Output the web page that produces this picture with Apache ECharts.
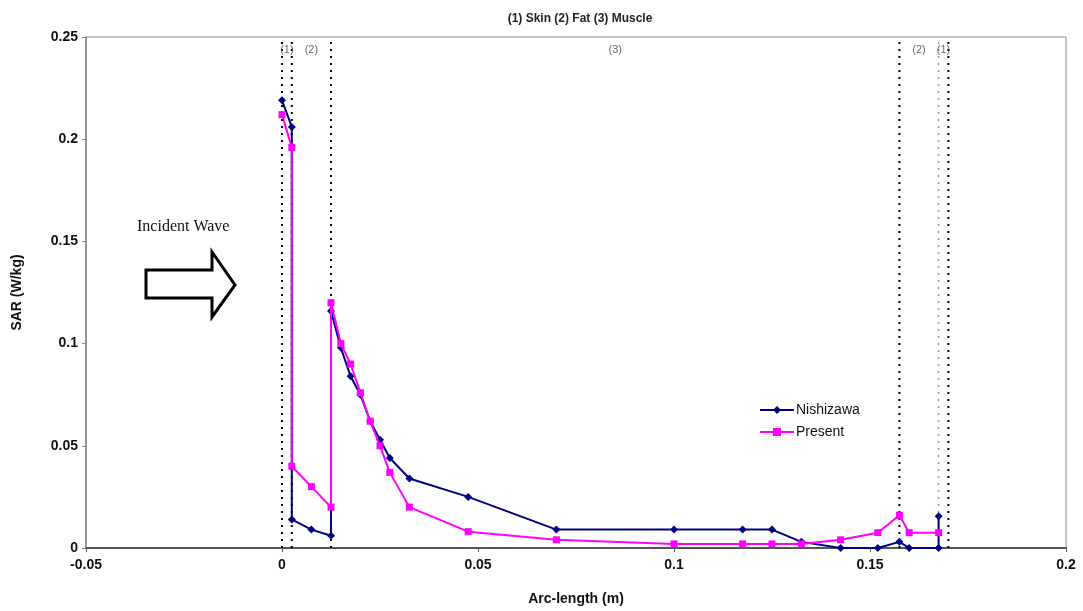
<!DOCTYPE html>
<html>
<head>
<meta charset="utf-8">
<script src="https://cdn.jsdelivr.net/npm/echarts@6/dist/echarts.min.js"></script>
<style>
html,body{margin:0;padding:0;background:#fff;}
#chart{width:1083px;height:611px;}
</style>
</head>
<body>
<div id="chart"></div>
<script>
// ---- Data ----
const nishX = [0, 0.0025, 0.0025, 0.0075, 0.0125, 0.0125, 0.015, 0.0175, 0.02, 0.0225, 0.025, 0.0275, 0.0325, 0.0475, 0.07, 0.1, 0.1175, 0.125, 0.1325, 0.1425, 0.152, 0.1575, 0.16, 0.1675, 0.1675];
const nishY = [0.219, 0.206, 0.014, 0.009, 0.006, 0.116, 0.098, 0.084, 0.075, 0.062, 0.053, 0.044, 0.034, 0.025, 0.009, 0.009, 0.009, 0.009, 0.003, 0.0, 0.0, 0.003, 0.0, 0.0, 0.0155];
const presX = [0, 0.0025, 0.0025, 0.0075, 0.0125, 0.0125, 0.015, 0.0175, 0.02, 0.0225, 0.025, 0.0275, 0.0325, 0.0475, 0.07, 0.1, 0.1175, 0.125, 0.1325, 0.1425, 0.152, 0.1575, 0.16, 0.1675];
const presY = [0.212, 0.196, 0.040, 0.030, 0.020, 0.120, 0.100, 0.090, 0.076, 0.062, 0.050, 0.037, 0.020, 0.008, 0.004, 0.002, 0.002, 0.002, 0.002, 0.004, 0.0075, 0.016, 0.0075, 0.0075];
const boundaries = [0, 0.0025, 0.0125, 0.1575, 0.1675, 0.17];
const layerLabelX = [0.00125, 0.0075, 0.085, 0.1625, 0.16875];
const layerLabelText = ['(1)', '(2)', '(3)', '(2)', '(1)'];
const xTicks = [-0.05, 0, 0.05, 0.1, 0.15, 0.2];
const yTicks = [0, 0.05, 0.1, 0.15, 0.2, 0.25];

const chart = echarts.init(document.getElementById('chart'));
const zip = (xs, ys) => xs.map((x, i) => [x, ys[i]]);

const boundarySeries = boundaries.map((b, i) => ({
  type: 'line',
  silent: true,
  symbol: 'none',
  z: 1,
  data: [[b, 0], [b, 0.25]],
  lineStyle: { color: i === 4 ? '#999' : '#000', width: i === 4 ? 1.5 : 2, type: [2, 5] }
}));

const option = {
  animation: false,
  backgroundColor: '#fff',
  title: {
    text: '(1) Skin (2) Fat (3) Muscle',
    left: 575, top: 8, textAlign: 'center',
    textStyle: { fontFamily: 'Liberation Sans', fontSize: 12, fontWeight: 'bold', color: '#222' }
  },
  grid: { left: 86, right: 17, top: 37, bottom: 63, show: true, borderColor: '#888', borderWidth: 1, backgroundColor: 'transparent' },
  legend: {
    orient: 'vertical', left: 754, top: 398, itemGap: 8, itemWidth: 34, itemHeight: 10,
    data: ['Nishizawa', 'Present'],
    textStyle: { fontFamily: 'Liberation Sans', fontSize: 14, color: '#111', padding: [0, 0, 0, -3] }
  },
  xAxis: {
    type: 'value', min: xTicks[0], max: xTicks[xTicks.length - 1], interval: 0.05,
    name: 'Arc-length (m)', nameLocation: 'middle', nameGap: 44,
    nameTextStyle: { fontFamily: 'Liberation Sans', fontSize: 14, fontWeight: 'bold', color: '#111' },
    axisLine: { onZero: false, lineStyle: { color: '#555', width: 2 } },
    axisTick: { show: true, length: 4, lineStyle: { color: '#555' } },
    axisLabel: { fontFamily: 'Liberation Sans', fontSize: 14, fontWeight: 'bold', color: '#111', margin: 10,
      formatter: v => String(+v.toFixed(2)) },
    splitLine: { show: false }
  },
  yAxis: {
    type: 'value', min: yTicks[0], max: yTicks[yTicks.length - 1], interval: 0.05,
    name: 'SAR (W/kg)', nameLocation: 'middle', nameGap: 62, nameRotate: 90,
    nameTextStyle: { fontFamily: 'Liberation Sans', fontSize: 14, fontWeight: 'bold', color: '#111' },
    axisLine: { show: true, onZero: false, lineStyle: { color: '#888', width: 1.5 } },
    axisTick: { show: true, length: 4, lineStyle: { color: '#888' } },
    axisLabel: { fontFamily: 'Liberation Sans', fontSize: 14, fontWeight: 'bold', color: '#111', margin: 8,
      formatter: v => String(+v.toFixed(2)) },
    splitLine: { show: false }
  },
  series: [
    ...boundarySeries,
    {
      type: 'scatter', silent: true, symbolSize: 0, z: 2,
      data: layerLabelX.map((x, i) => ({ value: [x, 0.2435], name: layerLabelText[i] })),
      label: { show: true, position: 'inside', formatter: p => p.name,
        fontFamily: 'Liberation Sans', fontSize: 11, color: '#444' }
    },
    {
      name: 'Nishizawa', type: 'line', z: 3,
      data: zip(nishX, nishY),
      symbol: 'diamond', symbolSize: 8, showAllSymbol: true,
      itemStyle: { color: '#000080' },
      lineStyle: { color: '#000080', width: 2 }
    },
    {
      name: 'Present', type: 'line', z: 4,
      data: zip(presX, presY),
      symbol: 'rect', symbolSize: 7, showAllSymbol: true,
      itemStyle: { color: '#FF00FF' },
      lineStyle: { color: '#FF00FF', width: 2 }
    }
  ],
  graphic: [
    { type: 'text', left: 137, top: 219,
      style: { text: 'Incident Wave', fontFamily: 'Liberation Serif', fontSize: 16, fill: '#111' } },
    { type: 'polygon',
      shape: { points: [[146, 270], [212, 270], [212, 252], [235, 285], [212, 317], [212, 298], [146, 298]] },
      style: { fill: '#fff', stroke: '#000', lineWidth: 3, lineJoin: 'miter' } }
  ]
};
chart.setOption(option);
</script>
</body>
</html>
